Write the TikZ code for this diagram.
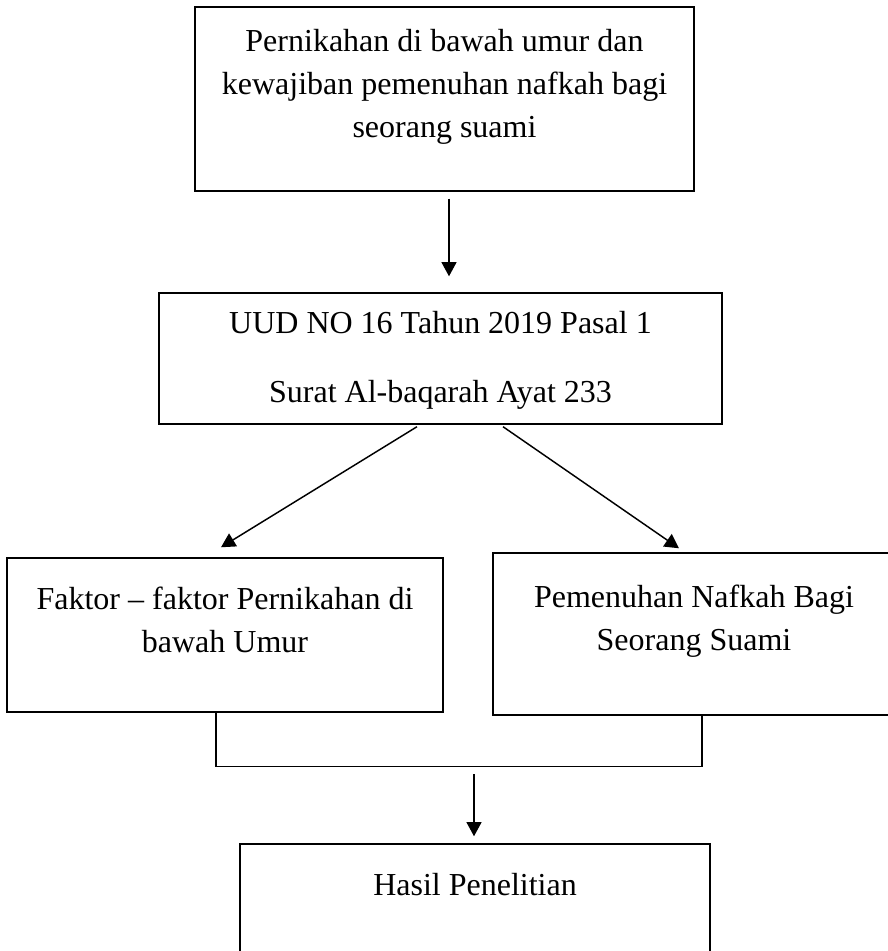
\documentclass[tikz,border=0pt]{standalone}
\usepackage{fontspec}
\setmainfont{Liberation Serif}
\usetikzlibrary{arrows.meta,calc}

\tikzset{
	kotak/.style={draw, line width=0.55pt, inner sep=0pt},
	teks/.style={anchor=north, inner sep=0pt, align=center, font=\fontsize{12}{16}\selectfont},
	panah/.style={line width=0.55pt, -{Triangle[length=5.3pt,width=5.6pt]}}
}

\begin{document}
\begin{tikzpicture}[x=0.375pt,y=-0.375pt]
			%\draw[step=50,gray,very thin] (0,0) grid (887,951);
			\useasboundingbox (0,0) rectangle (887,951);
			
			\node[kotak, minimum width=187.1pt, minimum height=69pt] (masalah) at (444.5,99) {};
			\node[kotak, minimum width=211.1pt, minimum height=49.1pt] (dasar) at (440.5,358.5) {};
			\node[kotak, minimum width=163.5pt, minimum height=57.75pt] (faktor) at (225,635) {};
			\node[kotak, minimum width=150.75pt, minimum height=60.75pt] (nafkah) at (694,634) {};
			\node[kotak, minimum width=176.25pt, minimum height=60pt] (hasil) at (475,924) {};
			
			\node[teks] (masalah-teks) at ($(masalah.north)+(0,23)$) {Pernikahan di bawah umur dan\\kewajiban pemenuhan nafkah bagi\\seorang suami};
			\node[teks] (dasar-teks) at ($(dasar.north)+(0,18)$) {UUD NO 16 Tahun 2019 Pasal 1\\[10pt]Surat Al-baqarah Ayat 233};
			\node[teks] (faktor-teks) at ($(faktor.north)+(0,29)$) {Faktor – faktor Pernikahan di\\bawah Umur};
			\node[teks] (nafkah-teks) at ($(nafkah.north)+(0,32)$) {Pemenuhan Nafkah Bagi\\Seorang Suami};
			\node[teks] (hasil-teks) at ($(hasil.north)+(0,29)$) {Hasil Penelitian};
			
			\draw[panah] ($(masalah.south)+(4.5,7)$) -- ($(dasar.north)+(8.5,-16)$);
			\draw[panah] ($(dasar.south)+(-23.5,2)$) -- ($(faktor.north)+(-4,-10)$);
			\draw[panah] ($(dasar.south)+(62.5,2)$) -- ($(nafkah.north)+(-15,-4)$);
			
			\draw[line width=0.55pt] ($(faktor.south)+(-9,0)$) |- ($(nafkah.south)+(8,51)$) -- ($(nafkah.south)+(8,-2)$);
			\coordinate (gabung) at (474,766);
			\draw[panah] ($(gabung)+(0,8)$) -- ($(hasil.north)+(-1,-7)$);
		\end{tikzpicture}
\end{document}
